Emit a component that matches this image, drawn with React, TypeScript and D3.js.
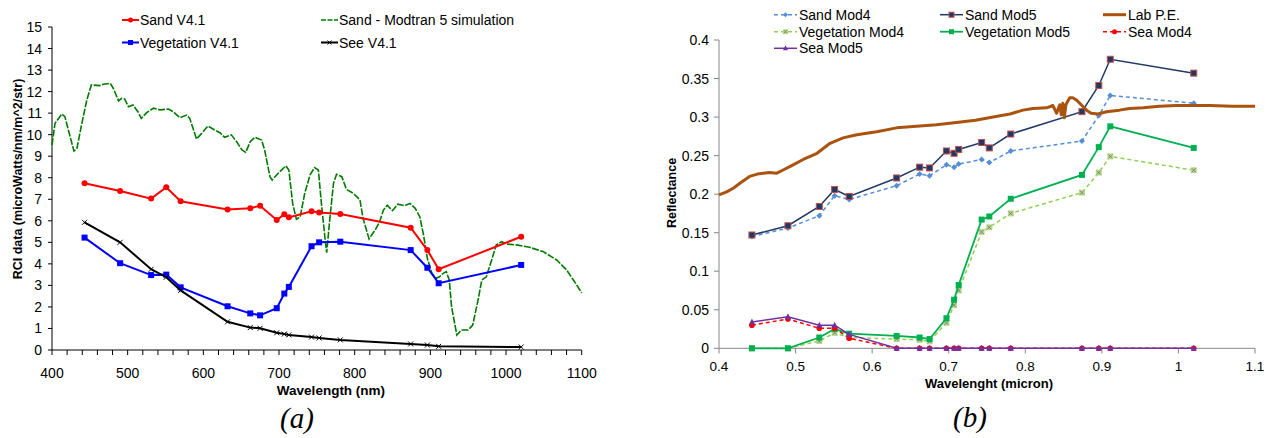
import React from 'react';
import * as d3 from 'd3';

// ---- panel (a) data ----
const bandsNm = [443, 490, 531, 551, 570, 632, 662, 675, 697, 707, 713, 743, 753, 781, 874, 896, 911, 1020];
const sandV41 = [7.74, 7.38, 7.03, 7.56, 6.91, 6.53, 6.58, 6.7, 6.04, 6.3, 6.16, 6.44, 6.38, 6.32, 5.68, 4.64, 3.75, 5.26];
const vegV41 = [5.22, 4.03, 3.48, 3.5, 2.91, 2.03, 1.7, 1.61, 1.94, 2.62, 2.93, 4.82, 5.0, 5.03, 4.64, 3.82, 3.1, 3.95];
const seeV41 = [5.93, 5.0, 3.75, 3.38, 2.77, 1.31, 1.04, 1.01, 0.8, 0.74, 0.7, 0.6, 0.56, 0.47, 0.28, 0.23, 0.17, 0.14];

const modtranNm = [400, 404, 413, 417, 421, 429, 433, 439, 446, 452, 463, 468, 477, 481, 488, 492, 496, 501, 507, 514, 518, 525, 534, 543, 554, 560, 569, 578, 582, 591, 596, 606, 615, 622, 628, 637, 644, 651, 656, 662, 668, 677, 681, 688, 691, 699, 709, 713, 718, 723, 728, 734, 741, 747, 752, 756, 761, 763, 767, 772, 776, 783, 789, 798, 807, 811, 819, 827, 833, 838, 843, 850, 857, 866, 873, 880, 886, 891, 896, 902, 908, 912, 917, 921, 925, 928, 935, 941, 950, 956, 963, 968, 974, 981, 987, 994, 1001, 1014, 1031, 1049, 1067, 1080, 1089, 1100];
const modtranVal = [9.52, 10.53, 10.96, 10.84, 10.3, 9.24, 9.37, 10.45, 11.61, 12.31, 12.28, 12.34, 12.39, 12.15, 11.57, 11.69, 11.66, 11.3, 11.38, 11.04, 10.76, 11.02, 11.23, 11.15, 11.19, 11.07, 10.79, 10.91, 10.76, 9.8, 9.99, 10.4, 10.22, 10.09, 9.88, 9.99, 9.67, 9.29, 9.18, 9.67, 9.88, 9.75, 9.29, 8.05, 7.9, 8.21, 8.55, 8.36, 6.81, 6.07, 6.19, 7.28, 8.13, 8.47, 8.36, 6.81, 5.11, 4.52, 6.04, 7.74, 8.16, 8.05, 7.46, 7.28, 6.97, 6.12, 5.16, 5.57, 5.96, 6.5, 6.72, 6.47, 6.77, 6.7, 6.81, 6.58, 6.19, 5.34, 4.26, 3.56, 3.33, 3.4, 3.56, 3.64, 3.25, 2.01, 0.7, 0.93, 0.93, 1.16, 2.32, 3.25, 3.4, 4.18, 4.88, 5.03, 4.92, 4.88, 4.77, 4.57, 4.18, 3.72, 3.25, 2.66];

const yTicksA = d3.range(0, 16, 1);
const xTicksA = [400, 500, 600, 700, 800, 900, 1000, 1100];

// ---- panel (b) data ----
const bandsUm = [0.443, 0.49, 0.531, 0.551, 0.57, 0.632, 0.662, 0.675, 0.697, 0.707, 0.713, 0.743, 0.753, 0.781, 0.874, 0.896, 0.911, 1.02];
const sandMod4 = [0.145, 0.156, 0.172, 0.198, 0.193, 0.211, 0.226, 0.224, 0.238, 0.235, 0.239, 0.245, 0.241, 0.256, 0.269, 0.302, 0.328, 0.318];
const sandMod5 = [0.147, 0.159, 0.184, 0.206, 0.197, 0.221, 0.235, 0.234, 0.256, 0.253, 0.258, 0.267, 0.26, 0.278, 0.307, 0.341, 0.375, 0.357];
const vegMod4 = [0, 0, 0.0095, 0.02, 0.014, 0.012, 0.011, 0.009, 0.033, 0.056, 0.075, 0.151, 0.157, 0.175, 0.202, 0.228, 0.249, 0.231];
const vegMod5 = [0, 0, 0.014, 0.025, 0.019, 0.016, 0.014, 0.012, 0.039, 0.063, 0.082, 0.167, 0.171, 0.194, 0.225, 0.261, 0.288, 0.26];
const seaMod4 = [0.03, 0.038, 0.026, 0.026, 0.013, 0, 0, 0, 0, 0, 0, 0, 0, 0, 0, 0, 0, 0];
const seaMod5 = [0.034, 0.041, 0.03, 0.03, 0.018, 0, 0, 0, 0, 0, 0, 0, 0, 0, 0, 0, 0, 0];

const labUm = [0.4, 0.41, 0.419, 0.43, 0.44, 0.45, 0.458, 0.466, 0.475, 0.485, 0.493, 0.51, 0.528, 0.545, 0.562, 0.58, 0.606, 0.632, 0.658, 0.684, 0.71, 0.735, 0.758, 0.78, 0.797, 0.81, 0.828, 0.836, 0.841, 0.845, 0.847, 0.849, 0.851, 0.853, 0.858, 0.862, 0.867, 0.873, 0.88, 0.886, 0.895, 0.906, 0.923, 0.936, 0.954, 0.975, 0.997, 1.02, 1.041, 1.07, 1.1];
const labVal = [0.199, 0.203, 0.208, 0.216, 0.223, 0.226, 0.227, 0.228, 0.227, 0.232, 0.236, 0.245, 0.253, 0.266, 0.273, 0.277, 0.281, 0.286, 0.288, 0.29, 0.293, 0.296, 0.3, 0.304, 0.309, 0.311, 0.312, 0.315, 0.305, 0.316, 0.303, 0.318, 0.299, 0.316, 0.325, 0.325, 0.322, 0.316, 0.309, 0.305, 0.304, 0.307, 0.309, 0.311, 0.312, 0.314, 0.315, 0.315, 0.315, 0.314, 0.314];

const yTicksB = d3.range(0, 0.4001, 0.05);
const xTicksB = [0.4, 0.5, 0.6, 0.7, 0.8, 0.9, 1.0, 1.1];

const FONT = '"Liberation Sans", Arial, sans-serif';

type MarkerKind = 'circle' | 'square' | 'cross' | 'diamond' | 'navySquare' | 'vegX' | 'triangle' | 'none';

const Marker: React.FC<{ kind: MarkerKind; x: number; y: number; color: string; s?: number }> = ({ kind, x, y, color, s = 3 }) => {
  switch (kind) {
    case 'circle':
      return <circle cx={x} cy={y} r={s} fill={color} />;
    case 'square':
      return <rect x={x - s} y={y - s} width={2 * s} height={2 * s} fill={color} />;
    case 'cross':
      return <path d={`M${x - s},${y - s}L${x + s},${y + s}M${x - s},${y + s}L${x + s},${y - s}`} stroke={color} strokeWidth={1} />;
    case 'diamond':
      return <path d={`M${x},${y - s}L${x + s},${y}L${x},${y + s}L${x - s},${y}Z`} fill={color} />;
    case 'navySquare':
      return <rect x={x - s} y={y - s} width={2 * s} height={2 * s} fill={color} stroke="#c0504d" strokeWidth={1} />;
    case 'vegX':
      return (
        <g>
          <rect x={x - s} y={y - s} width={2 * s} height={2 * s} fill="#b7dd8a" />
          <path d={`M${x - s + 1},${y - s + 1}L${x + s - 1},${y + s - 1}M${x - s + 1},${y + s - 1}L${x + s - 1},${y - s + 1}`} stroke="#7f7f7f" strokeWidth={1} />
        </g>
      );
    case 'triangle':
      return <path d={`M${x},${y - s - 0.5}L${x + s},${y + s - 0.5}L${x - s},${y + s - 0.5}Z`} fill={color} />;
    default:
      return null;
  }
};

const App: React.FC = () => {
  // panel (a)
  const xA = d3.scaleLinear().domain([400, 1100]).range([52, 581.7]);
  const yA = d3.scaleLinear().domain([0, 15]).range([350, 27]);
  const lineA = d3.line<[number, number]>().x(d => xA(d[0])).y(d => yA(d[1]));

  // panel (b)
  const xB = d3.scaleLinear().domain([0.4, 1.1]).range([719, 1255]);
  const yB = d3.scaleLinear().domain([0, 0.4]).range([348.3, 40]);
  const lineB = d3.line<[number, number]>().x(d => xB(d[0])).y(d => yB(d[1]));

  const seriesA = [
    { name: 'Sand V4.1', vals: sandV41, color: '#ff0000', marker: 'circle' as MarkerKind, s: 3 },
    { name: 'Vegetation V4.1', vals: vegV41, color: '#0000ff', marker: 'square' as MarkerKind, s: 3 },
    { name: 'See V4.1', vals: seeV41, color: '#000000', marker: 'cross' as MarkerKind, s: 2.5 },
  ];

  const seriesB = [
    { name: 'Sand Mod4', vals: sandMod4, color: '#558ed5', dash: '4 3', marker: 'diamond' as MarkerKind, s: 3, w: 1.5 },
    { name: 'Sand Mod5', vals: sandMod5, color: '#1f3864', dash: '', marker: 'navySquare' as MarkerKind, s: 3, w: 1.5 },
    { name: 'Vegetation Mod4', vals: vegMod4, color: '#92d050', dash: '4 3', marker: 'vegX' as MarkerKind, s: 3, w: 1.5 },
    { name: 'Vegetation Mod5', vals: vegMod5, color: '#00b050', dash: '', marker: 'square' as MarkerKind, s: 3, w: 1.8 },
    { name: 'Sea Mod4', vals: seaMod4, color: '#ff0000', dash: '4 3', marker: 'circle' as MarkerKind, s: 2.8, w: 1.5 },
    { name: 'Sea Mod5', vals: seaMod5, color: '#7030a0', dash: '', marker: 'triangle' as MarkerKind, s: 3, w: 1.5 },
  ];

  const legendB = [
    { name: 'Sand Mod4', x: 774, y: 14.7, color: '#558ed5', dash: '4 3', marker: 'diamond' as MarkerKind, w: 1.5 },
    { name: 'Sand Mod5', x: 940, y: 14.7, color: '#1f3864', dash: '', marker: 'navySquare' as MarkerKind, w: 1.5 },
    { name: 'Lab P.E.', x: 1103, y: 14.7, color: '#a9530f', dash: '', marker: 'none' as MarkerKind, w: 3 },
    { name: 'Vegetation Mod4', x: 774, y: 31.7, color: '#92d050', dash: '4 3', marker: 'vegX' as MarkerKind, w: 1.5 },
    { name: 'Vegetation Mod5', x: 940, y: 31.7, color: '#00b050', dash: '', marker: 'square' as MarkerKind, w: 1.8 },
    { name: 'Sea Mod4', x: 1103, y: 31.7, color: '#ff0000', dash: '4 3', marker: 'circle' as MarkerKind, w: 1.5 },
    { name: 'Sea Mod5', x: 774, y: 48.3, color: '#7030a0', dash: '', marker: 'triangle' as MarkerKind, w: 1.5 },
  ];

  const minorA = d3.range(400, 1101, 20);

  return (
    <svg width={1281} height={438} style={{ display: 'block', position: 'absolute', left: 0, top: 0 }} fontFamily={FONT}>
      <rect width={1281} height={438} fill="#fff" />

      {/* ===== panel (a) ===== */}
      <g>
        <line x1={52} x2={52} y1={27} y2={350} stroke="#000" />
        <line x1={52} x2={581.7} y1={350} y2={350} stroke="#000" />
        {yTicksA.map(t => (
          <g key={t}>
            <line x1={48} x2={52} y1={yA(t)} y2={yA(t)} stroke="#000" />
            <text x={42} y={yA(t) + 5} textAnchor="end" fontSize={14} fill="#000">{t}</text>
          </g>
        ))}
        {minorA.map(t => (
          <line key={t} x1={xA(t)} x2={xA(t)} y1={350} y2={355} stroke="#000" />
        ))}
        {xTicksA.map(t => (
          <text key={t} x={xA(t)} y={378} textAnchor="middle" fontSize={14} fill="#000">{t}</text>
        ))}
        <text x={331} y={395} textAnchor="middle" fontSize={13.5} fontWeight="bold">Wavelength (nm)</text>
        <text transform="translate(22,179) rotate(-90)" textAnchor="middle" fontSize={12.5} fontWeight="bold">RCI data (microWatts/nm/m^2/str)</text>

        <path d={lineA(modtranNm.map((x, i) => [x, modtranVal[i]]) as [number, number][]) || ''} fill="none" stroke="#007a00" strokeWidth={1.6} strokeDasharray="7 1.5" />

        {seriesA.map(s => (
          <g key={s.name}>
            <path d={lineA(bandsNm.map((x, i) => [x, s.vals[i]]) as [number, number][]) || ''} fill="none" stroke={s.color} strokeWidth={2} />
            {bandsNm.map((x, i) => (
              <Marker key={i} kind={s.marker} x={xA(x)} y={yA(s.vals[i])} color={s.color} s={s.s} />
            ))}
          </g>
        ))}

        {/* legend (a) */}
        <line x1={122} x2={139} y1={20} y2={20} stroke="#ff0000" strokeWidth={2} />
        <Marker kind="circle" x={130.5} y={20} color="#ff0000" s={2.5} />
        <text x={140} y={25} fontSize={14}>Sand V4.1</text>
        <line x1={122} x2={139} y1={42.5} y2={42.5} stroke="#0000ff" strokeWidth={2} />
        <Marker kind="square" x={130.5} y={42.5} color="#0000ff" s={2.5} />
        <text x={140} y={47.5} fontSize={14}>Vegetation V4.1</text>
        <line x1={321} x2={338} y1={20} y2={20} stroke="#007a00" strokeWidth={1.6} strokeDasharray="5 1.5" />
        <text x={339} y={25} fontSize={14}>Sand - Modtran 5 simulation</text>
        <line x1={321} x2={338} y1={42.5} y2={42.5} stroke="#000" strokeWidth={2} />
        <Marker kind="cross" x={329.5} y={42.5} color="#000" s={2} />
        <text x={339} y={47.5} fontSize={14}>See V4.1</text>

        <text x={297} y={428} textAnchor="middle" fontFamily='"Liberation Serif", "Times New Roman", serif' fontStyle="italic" fontSize={29}>(a)</text>
      </g>

      {/* ===== panel (b) ===== */}
      <g>
        <line x1={719} x2={719} y1={40} y2={348.3} stroke="#868686" />
        <line x1={719} x2={1255} y1={348.3} y2={348.3} stroke="#868686" />
        {yTicksB.map(t => (
          <g key={t}>
            <line x1={714} x2={719} y1={yB(t)} y2={yB(t)} stroke="#868686" />
            <text x={709} y={yB(t) + 5} textAnchor="end" fontSize={14} fill="#000">{d3.format('~g')(+t.toFixed(2))}</text>
          </g>
        ))}
        {xTicksB.map(t => (
          <g key={t}>
            <line x1={xB(t)} x2={xB(t)} y1={348.3} y2={353.5} stroke="#868686" />
            <text x={xB(t)} y={371} textAnchor="middle" fontSize={13.5} fill="#000">{d3.format('~g')(+t.toFixed(1))}</text>
          </g>
        ))}
        <text x={989} y={388} textAnchor="middle" fontSize={13} fontWeight="bold">Wavelenght (micron)</text>
        <text transform="translate(676,193) rotate(-90)" textAnchor="middle" fontSize={12.5} fontWeight="bold">Reflectance</text>

        {seriesB.slice(0, 2).map(s => (
          <g key={s.name}>
            <path d={lineB(bandsUm.map((x, i) => [x, s.vals[i]]) as [number, number][]) || ''} fill="none" stroke={s.color} strokeWidth={s.w} strokeDasharray={s.dash || undefined} />
            {bandsUm.map((x, i) => (
              <Marker key={i} kind={s.marker} x={xB(x)} y={yB(s.vals[i])} color={s.color} s={s.s} />
            ))}
          </g>
        ))}

        <path d={lineB(labUm.map((x, i) => [x, labVal[i]]) as [number, number][]) || ''} fill="none" stroke="#a9530f" strokeWidth={3} strokeLinejoin="round" />

        {seriesB.slice(2).map(s => (
          <g key={s.name}>
            <path d={lineB(bandsUm.map((x, i) => [x, s.vals[i]]) as [number, number][]) || ''} fill="none" stroke={s.color} strokeWidth={s.w} strokeDasharray={s.dash || undefined} />
            {bandsUm.map((x, i) => (
              <Marker key={i} kind={s.marker} x={xB(x)} y={yB(s.vals[i])} color={s.color} s={s.s} />
            ))}
          </g>
        ))}

        {/* legend (b) */}
        {legendB.map(l => (
          <g key={l.name}>
            <line x1={l.x} x2={l.x + 23} y1={l.y} y2={l.y} stroke={l.color} strokeWidth={l.w} strokeDasharray={l.dash || undefined} />
            <Marker kind={l.marker} x={l.x + 11.5} y={l.y} color={l.color} s={2.5} />
            <text x={l.x + 25} y={l.y + 5} fontSize={14}>{l.name}</text>
          </g>
        ))}

        <text x={970} y={427} textAnchor="middle" fontFamily='"Liberation Serif", "Times New Roman", serif' fontStyle="italic" fontSize={29}>(b)</text>
      </g>
    </svg>
  );
};

export default App;
